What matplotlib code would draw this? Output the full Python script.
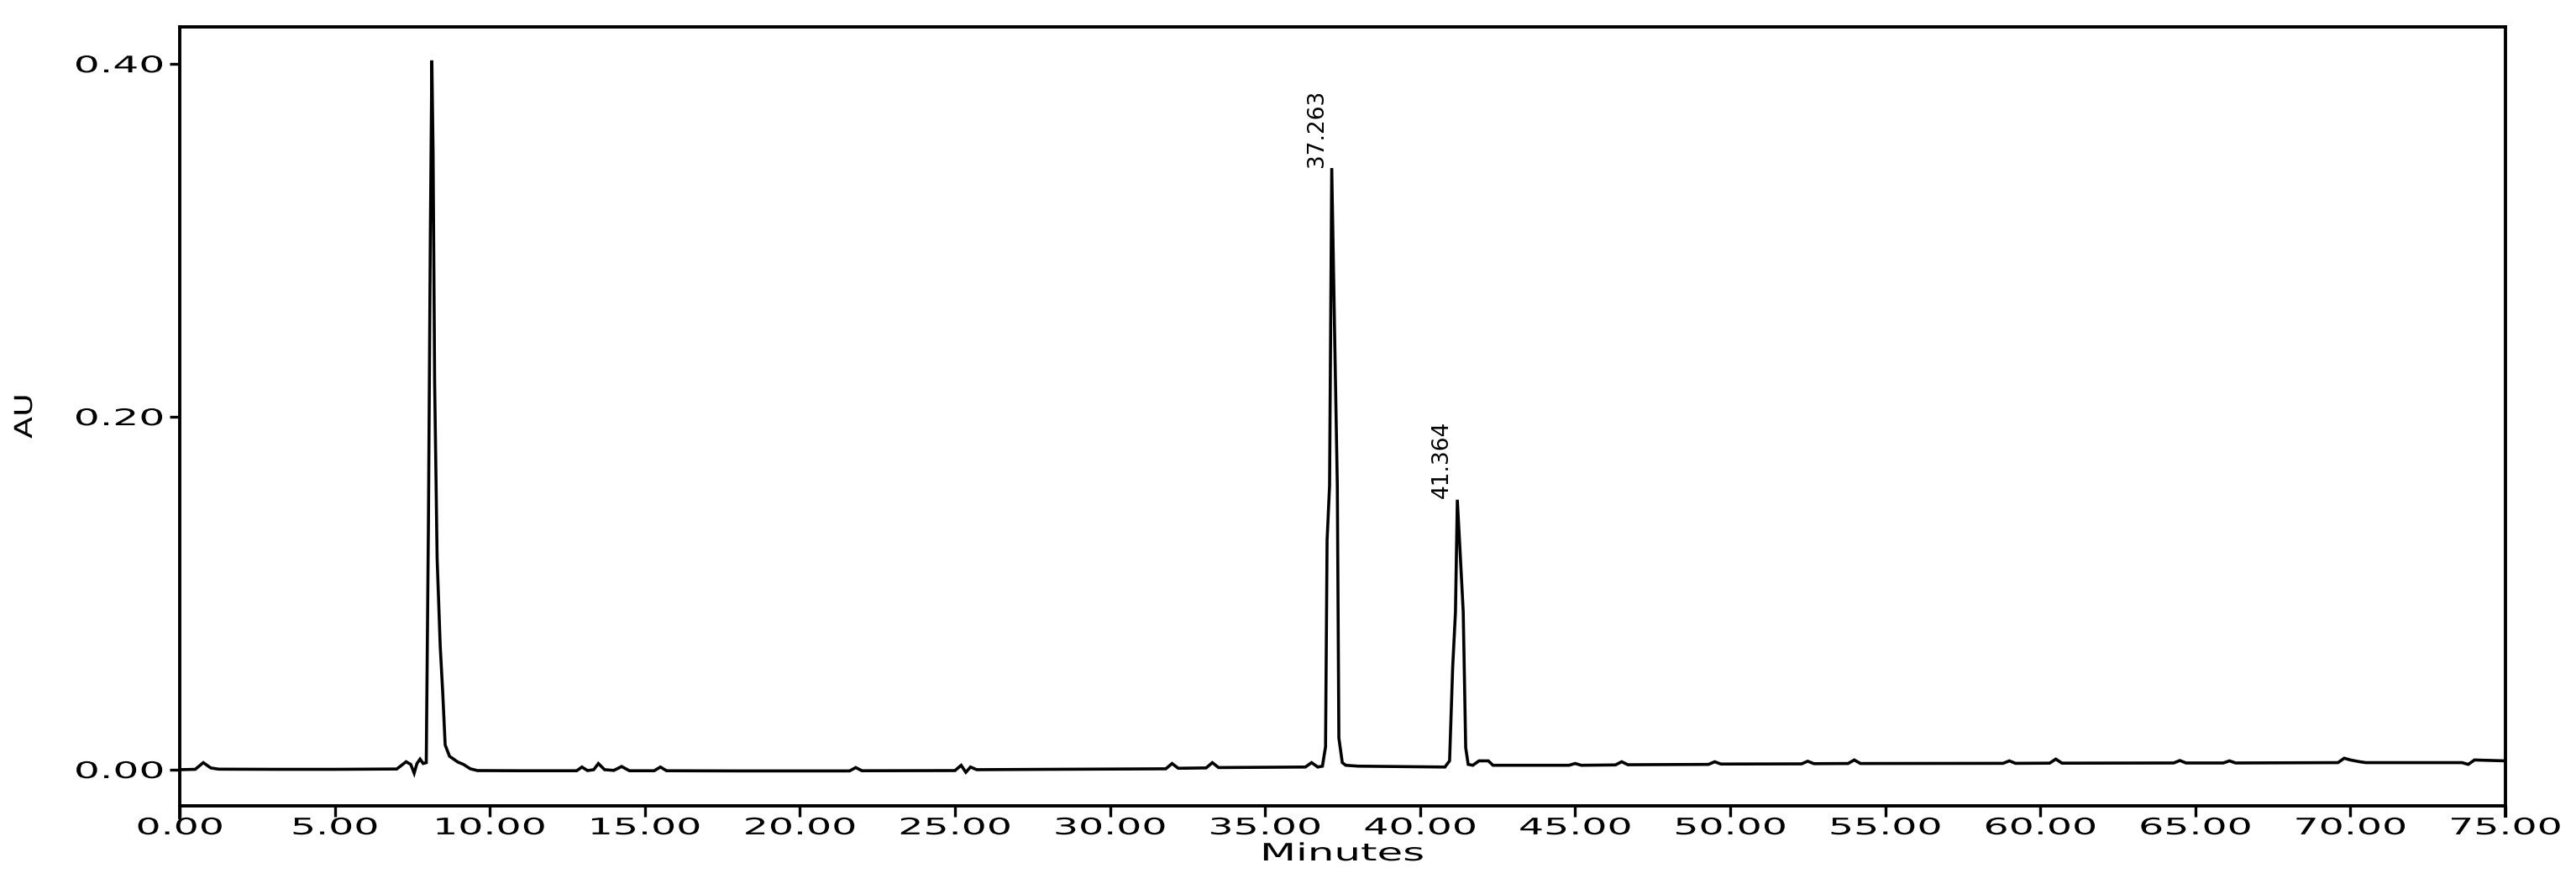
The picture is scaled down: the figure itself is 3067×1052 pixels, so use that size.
import matplotlib
matplotlib.use("Agg")
import matplotlib.pyplot as plt
from matplotlib.patheffects import AbstractPathEffect
from matplotlib.transforms import Affine2D

# ---- data ----
time_min = [
    0.00, 0.50, 0.76, 1.00, 1.25, 3.0, 5.0, 7.0, 7.30, 7.45, 7.56, 7.65, 7.75, 7.85, 7.95,
    8.02, 8.08, 8.13, 8.17, 8.22, 8.30, 8.40, 8.48, 8.56, 8.70, 8.97, 9.15, 9.37, 9.6,
    11.0, 12.8, 12.97, 13.15, 13.35, 13.5, 13.7, 14.0, 14.25, 14.5, 15.3, 15.5, 15.7,
    18.0, 21.6, 21.8, 22.0, 25.0, 25.2, 25.35, 25.5, 25.7, 28.0, 31.8, 32.0, 32.2,
    33.1, 33.3, 33.5, 36.3, 36.5, 36.7, 36.85, 36.95, 37.00, 37.08, 37.15, 37.25,
    37.33, 37.38, 37.49, 37.6, 38.0, 40.8, 40.95, 41.05, 41.14, 41.20, 41.30, 41.39,
    41.47, 41.55, 41.70, 41.90, 42.20, 42.35, 44.8, 45.0, 45.2, 46.3, 46.5, 46.7,
    49.3, 49.5, 49.7, 52.3, 52.5, 52.7, 53.8, 54.0, 54.2, 58.8, 59.0, 59.2, 60.3,
    60.5, 60.7, 64.3, 64.5, 64.7, 65.9, 66.1, 66.3, 69.6, 69.8, 70.0, 70.3, 70.5,
    73.6, 73.8, 74.0, 75.0,
]
absorbance = [
    0.0000, 0.0002, 0.0040, 0.0010, 0.0003, 0.0002, 0.0002, 0.0004, 0.0045, 0.0030, -0.0020,
    0.0035, 0.0060, 0.0035, 0.0040, 0.1400, 0.3000, 0.4020, 0.3490, 0.2200, 0.1200,
    0.0700, 0.0440, 0.0140, 0.0076, 0.0043, 0.0030, 0.0005, -0.0005, -0.0006, -0.0006,
    0.0015, -0.0005, 0.0000, 0.0035, 0.0000, -0.0004, 0.0018, -0.0006, -0.0006, 0.0015,
    -0.0006, -0.0007, -0.0007, 0.0012, -0.0006, -0.0005, 0.0025, -0.0015, 0.0015, 0.0000,
    0.0002, 0.0005, 0.0035, 0.0008, 0.0010, 0.0040, 0.0012, 0.0015, 0.0040, 0.0015,
    0.0020, 0.0130, 0.1300, 0.1610, 0.3410, 0.2400, 0.1610, 0.0180, 0.0040, 0.0025,
    0.0020, 0.0015, 0.0050, 0.0580, 0.0895, 0.1530, 0.1200, 0.0895, 0.0124, 0.0030,
    0.0025, 0.0050, 0.0050, 0.0025, 0.0025, 0.0035, 0.0025, 0.0027, 0.0045, 0.0028,
    0.0030, 0.0045, 0.0032, 0.0033, 0.0048, 0.0034, 0.0035, 0.0055, 0.0035, 0.0036,
    0.0050, 0.0036, 0.0037, 0.0060, 0.0037, 0.0038, 0.0052, 0.0038, 0.0038, 0.0050,
    0.0038, 0.0040, 0.0065, 0.0055, 0.0045, 0.0040, 0.0040, 0.0030, 0.0055, 0.0050,
]

peak_times = [37.15, 41.20]
peak_heights = [0.3410, 0.1530]
peak_labels = ["37.263", "41.364"]

x_ticks = [0, 5, 10, 15, 20, 25, 30, 35, 40, 45, 50, 55, 60, 65, 70, 75]
x_tick_labels = ["%.2f" % v for v in x_ticks]
y_ticks = [0.00, 0.20, 0.40]
y_tick_labels = ["0.00", "0.20", "0.40"]


class Stretch(AbstractPathEffect):
    """Widen text glyphs horizontally (in the text's own frame)."""

    def __init__(self, sx, anchor="center"):
        super().__init__()
        self.sx = sx
        self.anchor = anchor

    def draw_path(self, renderer, gc, tpath, affine, rgbFace=None):
        ext = tpath.get_extents()
        if self.anchor == "right":
            cx = ext.x1
        elif self.anchor == "left":
            cx = ext.x0
        else:
            cx = 0.5 * (ext.x0 + ext.x1)
        t = Affine2D().translate(-cx, 0).scale(self.sx, 1.0).translate(cx, 0) + affine
        renderer.draw_path(gc, tpath, t, rgbFace)


W, H, DPI = 3067, 1052, 100
L, R, T, B = 214, 2983, 32, 959
fig = plt.figure(figsize=(W / DPI, H / DPI), dpi=DPI)
fig.patch.set_facecolor("white")
ax = fig.add_axes([L / W, 1 - B / H, (R - L) / W, (B - T) / H])

ax.plot(time_min, absorbance, color="black", lw=2.6, solid_joinstyle="miter")

ax.set_xlim(0, 75)
ax.set_ylim(-0.0205, 0.421)

for s in ax.spines.values():
    s.set_linewidth(2.8)
    s.set_color("black")
ax.spines["left"].set_bounds(-0.027, 0.421)
ax.spines["right"].set_bounds(-0.026, 0.421)

ax.set_xticks(x_ticks)
ax.set_xticklabels(x_tick_labels)
ax.set_yticks(y_ticks)
ax.set_yticklabels(y_tick_labels)
ax.tick_params(axis="both", direction="out", length=9, width=2.4, color="black")
ax.tick_params(axis="x", pad=1)
ax.tick_params(axis="y", pad=5)

for lab in ax.get_xticklabels():
    lab.set_fontsize(19.5)
    lab.set_family("DejaVu Sans")
    lab.set_path_effects([Stretch(1.75, "center")])
for lab in ax.get_yticklabels():
    lab.set_fontsize(19.5)
    lab.set_family("DejaVu Sans")
    lab.set_path_effects([Stretch(1.8, "right")])

xl = ax.set_xlabel("Minutes", fontsize=20.5, labelpad=0)
xl.set_path_effects([Stretch(1.75, "center")])
xl.set_y(0)
ax.xaxis.set_label_coords(0.5, -(1030 - B) / (B - T))
xl.set_va("bottom")
yl = ax.set_ylabel("AU", fontsize=21, labelpad=0)
yl.set_path_effects([Stretch(1.3, "center")])
ax.yaxis.set_label_coords((44 - L) / (R - L), 0.5)

for t, h, lab in zip(peak_times, peak_heights, peak_labels):
    ax.annotate(lab, xy=(t, h), xytext=(-13, 1), textcoords="offset points",
                rotation=90, ha="center", va="bottom", fontsize=19, color="black")

fig.savefig("out.png", dpi=DPI, facecolor="white")
